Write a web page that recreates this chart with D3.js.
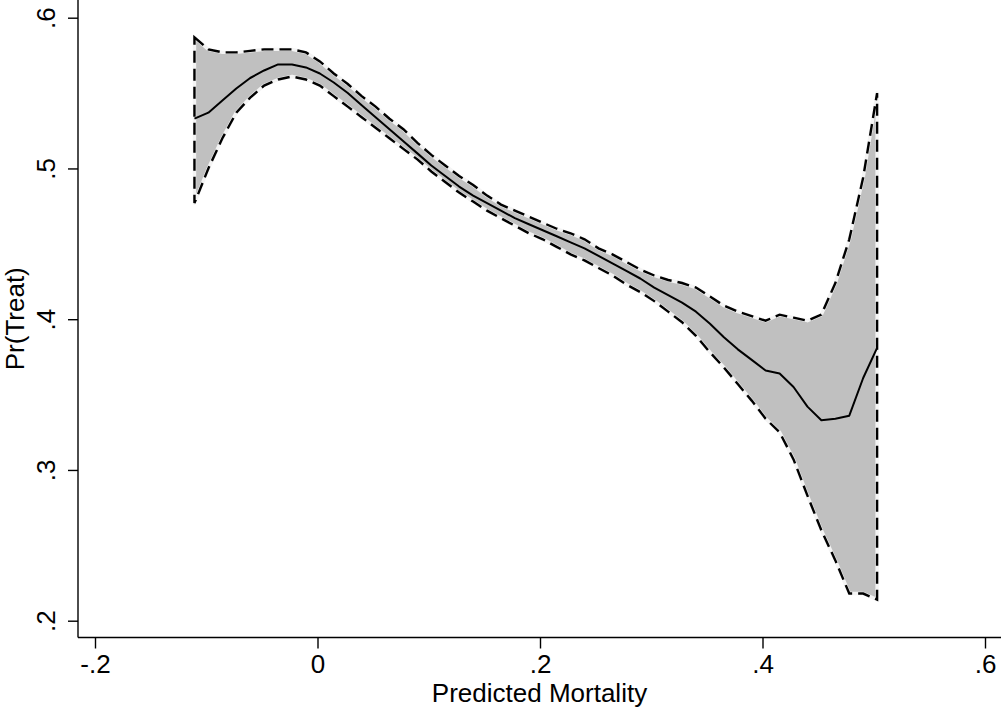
<!DOCTYPE html>
<html>
<head>
<meta charset="utf-8">
<script src="https://cdn.jsdelivr.net/npm/d3@7"></script>
<style>
  html, body { margin: 0; padding: 0; background: #fff; }
  svg { display: block; }
  text { font-family: "Liberation Sans", Arial, Helvetica, sans-serif; fill: #000; }
</style>
</head>
<body>
<svg id="chart" width="1001" height="708"></svg>
<script>
// Predicted mortality grid (x) with smoothed Pr(Treat) and its confidence band
const mortality = [
  -0.1106, -0.0981, -0.0855, -0.0730, -0.0605, -0.0480, -0.0354, -0.0229, -0.0104, 0.0021,
   0.0146,  0.0272,  0.0397,  0.0522,  0.0647,  0.0772,  0.0898,  0.1023,  0.1148, 0.1273,
   0.1399,  0.1524,  0.1649,  0.1774,  0.1900,  0.2025,  0.2150,  0.2275,  0.2400, 0.2526,
   0.2651,  0.2776,  0.2901,  0.3027,  0.3152,  0.3277,  0.3402,  0.3528,  0.3653, 0.3778,
   0.3903,  0.4028,  0.4154,  0.4279,  0.4404,  0.4529,  0.4655,  0.4780,  0.4905, 0.5030
];
const prTreat = [
  0.533, 0.537, 0.545, 0.553, 0.560, 0.565, 0.569, 0.569, 0.567, 0.563,
  0.557, 0.550, 0.542, 0.534, 0.526, 0.518, 0.510, 0.502, 0.495, 0.488,
  0.482, 0.477, 0.472, 0.467, 0.463, 0.459, 0.455, 0.451, 0.447, 0.442,
  0.437, 0.432, 0.427, 0.421, 0.416, 0.411, 0.405, 0.397, 0.388, 0.380,
  0.373, 0.366, 0.364, 0.355, 0.342, 0.333, 0.334, 0.336, 0.361, 0.381
];
const ciUpper = [
  0.587, 0.579, 0.577, 0.577, 0.578, 0.579, 0.579, 0.579, 0.577, 0.571,
  0.563, 0.556, 0.548, 0.541, 0.533, 0.526, 0.517, 0.509, 0.502, 0.495,
  0.489, 0.482, 0.476, 0.472, 0.468, 0.464, 0.460, 0.457, 0.453, 0.447,
  0.443, 0.438, 0.433, 0.429, 0.426, 0.424, 0.421, 0.415, 0.409, 0.405,
  0.402, 0.399, 0.403, 0.401, 0.399, 0.403, 0.424, 0.453, 0.494, 0.550
];
const ciLower = [
  0.477, 0.500, 0.520, 0.537, 0.547, 0.555, 0.559, 0.561, 0.559, 0.555,
  0.548, 0.541, 0.534, 0.527, 0.520, 0.513, 0.506, 0.498, 0.491, 0.484,
  0.478, 0.472, 0.467, 0.462, 0.457, 0.453, 0.448, 0.443, 0.439, 0.434,
  0.429, 0.423, 0.418, 0.412, 0.405, 0.398, 0.389, 0.378, 0.368, 0.357,
  0.346, 0.334, 0.325, 0.307, 0.283, 0.260, 0.240, 0.218, 0.218, 0.214
];

// Axis ticks
const xTickValues = [-0.2, 0, 0.2, 0.4, 0.6];
const xTickLabels = ["-.2", "0", ".2", ".4", ".6"];
const yTickValues = [0.2, 0.3, 0.4, 0.5, 0.6];
const yTickLabels = [".2", ".3", ".4", ".5", ".6"];

const svg = d3.select("#chart");
const axisX0 = 78;      // left axis position
const axisY0 = 637.5;   // bottom axis position

const x = d3.scaleLinear().domain([-0.2, 0.6]).range([95, 985]);
const y = d3.scaleLinear().domain([0.2, 0.6]).range([620.7, 17.7]);

const rows = mortality.map((m, i) => ({ x: m, mid: prTreat[i], hi: ciUpper[i], lo: ciLower[i] }));

// Confidence band
const band = d3.area()
  .x(d => x(d.x))
  .y0(d => y(d.lo))
  .y1(d => y(d.hi));

svg.append("path")
  .datum(rows)
  .attr("d", band)
  .attr("fill", "#c0c0c0")
  .attr("stroke", "#f4f4f4")
  .attr("stroke-width", 3.4)
  .attr("stroke-linejoin", "round");

svg.append("path")
  .datum(rows)
  .attr("d", band)
  .attr("fill", "none")
  .attr("stroke", "#000")
  .attr("stroke-width", 2.4)
  .attr("stroke-dasharray", "12,6")
  .attr("stroke-linejoin", "miter");

// Smoothed estimate
svg.append("path")
  .datum(rows)
  .attr("d", d3.line().x(d => x(d.x)).y(d => y(d.mid)))
  .attr("fill", "none")
  .attr("stroke", "#000")
  .attr("stroke-width", 2)
  .attr("stroke-linejoin", "round");

// Y axis
const gy = svg.append("g")
  .attr("transform", `translate(${axisX0},0)`)
  .call(d3.axisLeft(y)
    .tickValues(yTickValues)
    .tickFormat((d, i) => yTickLabels[i])
    .tickSize(10)
    .tickSizeOuter(0));
gy.select(".domain").remove();
gy.selectAll(".tick line").attr("stroke", "#000").attr("stroke-width", 1.4);
gy.selectAll(".tick text")
  .attr("x", null)
  .attr("dy", null)
  .attr("transform", "translate(-23,0) rotate(-90)")
  .attr("text-anchor", "middle")
  .style("font-size", "26px")
  .style("font-family", "'Liberation Sans', Arial, sans-serif");

// X axis
const gx = svg.append("g")
  .attr("transform", `translate(0,${axisY0})`)
  .call(d3.axisBottom(x)
    .tickValues(xTickValues)
    .tickFormat((d, i) => xTickLabels[i])
    .tickSize(11)
    .tickSizeOuter(0));
gx.select(".domain").remove();
gx.selectAll(".tick line").attr("stroke", "#000").attr("stroke-width", 1.4);
gx.selectAll(".tick text")
  .attr("y", 35)
  .attr("dy", null)
  .attr("text-anchor", "middle")
  .style("font-size", "26px")
  .style("font-family", "'Liberation Sans', Arial, sans-serif");

// Axis lines
svg.append("line")
  .attr("x1", axisX0).attr("x2", axisX0)
  .attr("y1", 0).attr("y2", axisY0)
  .attr("stroke", "#000").attr("stroke-width", 1.4);
svg.append("line")
  .attr("x1", axisX0).attr("x2", 1001)
  .attr("y1", axisY0).attr("y2", axisY0)
  .attr("stroke", "#000").attr("stroke-width", 1.4);

// Axis titles
svg.append("text")
  .attr("x", (axisX0 + 1001) / 2)
  .attr("y", 702)
  .attr("text-anchor", "middle")
  .style("font-size", "26px")
  .text("Predicted Mortality");

svg.append("text")
  .attr("transform", `translate(24,${axisY0 / 2}) rotate(-90)`)
  .attr("text-anchor", "middle")
  .style("font-size", "26px")
  .text("Pr(Treat)");
</script>
</body>
</html>
